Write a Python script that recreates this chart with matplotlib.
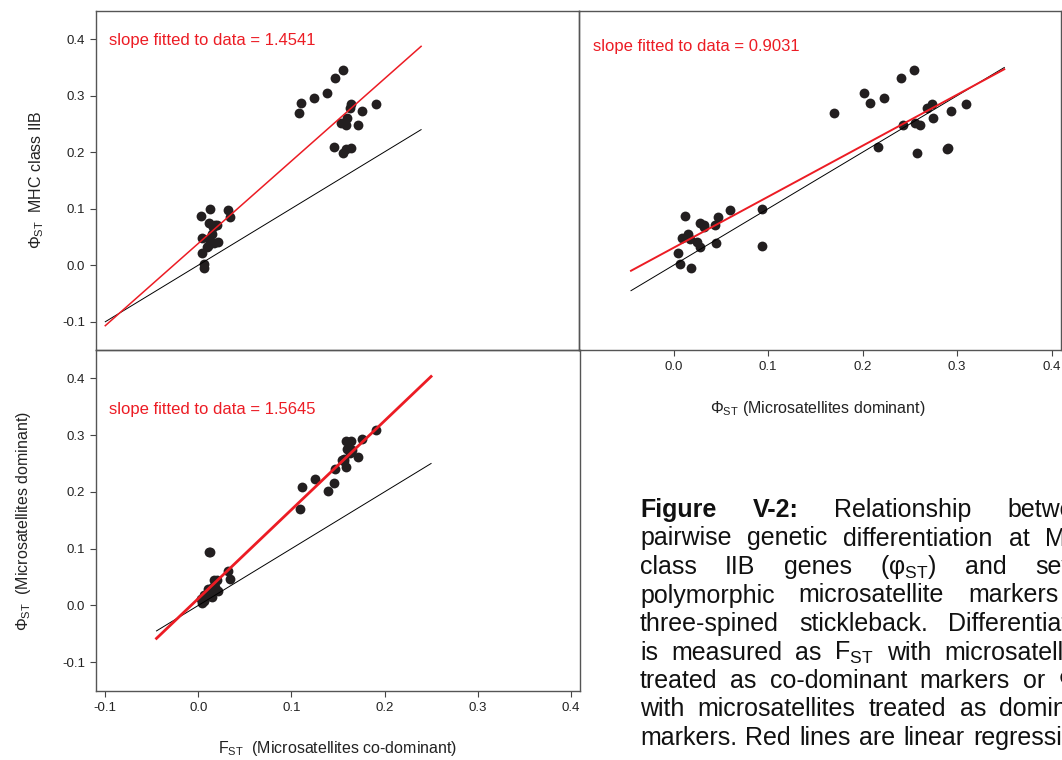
import numpy as np
import matplotlib.pyplot as plt

plt.rcParams['font.family'] = ['Liberation Sans', 'DejaVu Sans']
plt.rcParams['mathtext.fontset'] = 'custom'
plt.rcParams['mathtext.rm'] = 'Liberation Sans'
plt.rcParams['mathtext.it'] = 'Liberation Sans:italic'
plt.rcParams['mathtext.bf'] = 'Liberation Sans:bold'
plt.rcParams['axes.unicode_minus'] = False

# pairwise differentiation, one entry per population pair
fst_codom = [0.156, 0.147, 0.139, 0.125, 0.111, 0.165, 0.191, 0.109, 0.163,
             0.176, 0.160, 0.154, 0.159, 0.172, 0.146, 0.156, 0.159, 0.164,
             0.013, 0.003, 0.032, 0.034, 0.012, 0.018, 0.020, 0.016, 0.015,
             0.004, 0.012, 0.021, 0.017, 0.011, 0.010, 0.004, 0.006, 0.006]
phist_msat_dom = [0.254, 0.241, 0.202, 0.223, 0.208, 0.273, 0.309, 0.170, 0.268,
                  0.294, 0.275, 0.256, 0.243, 0.261, 0.216, 0.258, 0.289, 0.290,
                  0.094, 0.012, 0.060, 0.047, 0.028, 0.032, 0.044, 0.032, 0.015,
                  0.009, 0.017, 0.025, 0.045, 0.094, 0.028, 0.005, 0.007, 0.019]
phist_mhc = [0.345, 0.332, 0.304, 0.296, 0.287, 0.286, 0.285, 0.270, 0.278,
             0.273, 0.261, 0.252, 0.249, 0.248, 0.209, 0.199, 0.205, 0.207,
             0.100, 0.088, 0.097, 0.085, 0.074, 0.072, 0.072, 0.067, 0.056,
             0.048, 0.046, 0.042, 0.039, 0.034, 0.032, 0.021, 0.002, -0.005]

slopes = [1.4541, 0.9031, 1.5645]
line_ranges = [(-0.10, 0.24), (-0.045, 0.35), (-0.045, 0.25)]
ticks = [-0.1, 0.0, 0.1, 0.2, 0.3, 0.4]

W, H = 1062, 760
RED = '#ec1c24'
DOT = '#231f20'

fig = plt.figure(figsize=(W / 100, H / 100), dpi=100)


def box(l, t, r, b):
    return [l / W, 1 - b / H, (r - l) / W, (b - t) / H]


ax_tl = fig.add_axes(box(96, 11, 579, 350))
ax_tr = fig.add_axes(box(579, 11, 1061, 350))
ax_bl = fig.add_axes(box(96, 350, 580, 690.5))

panels = [
    (ax_tl, fst_codom, phist_mhc, (-0.11, 0.41), (0.027, 0.912), 1.1),
    (ax_tr, phist_msat_dom, phist_mhc, (-0.09, 0.41), (0.029, 0.895), 1.4),
    (ax_bl, fst_codom, phist_msat_dom, (-0.11, 0.41), (0.027, 0.826), 2.0),
]

for i, (ax, xs, ys, xlim, txt_pos, red_lw) in enumerate(panels):
    xs = np.array(xs)
    ys = np.array(ys)
    ax.set_facecolor('none')
    ax.scatter(xs, ys, s=50, color=DOT, linewidths=0, zorder=2)

    # least-squares line with the reported slope passes through the means
    b = slopes[i]
    a = ys.mean() - b * xs.mean()
    x0, x1 = line_ranges[i]
    xx = np.array([x0, x1])
    ax.plot(xx, xx, color='black', lw=0.7, zorder=3)
    ax.plot(xx, a + b * xx, color=RED, lw=red_lw, zorder=4)

    ax.text(txt_pos[0], txt_pos[1], 'slope fitted to data = %.4f' % b,
            transform=ax.transAxes, color=RED, fontsize=12, va='center')

    ax.set_xlim(*xlim)
    ax.set_ylim(-0.15, 0.45)
    ax.set_xticks(ticks)
    ax.set_yticks(ticks)
    ax.xaxis.set_major_formatter(plt.FormatStrFormatter('%.1f'))
    ax.yaxis.set_major_formatter(plt.FormatStrFormatter('%.1f'))
    ax.tick_params(direction='out', length=4, width=0.8, color='#444444',
                   labelsize=9.5, labelcolor='#222222', pad=4)
    for sp in ax.spines.values():
        sp.set_color('#555555')
        sp.set_linewidth(1.0)

ax_tl.tick_params(bottom=False, labelbottom=False)
ax_tr.tick_params(left=False, labelleft=False)
ax_tr.set_xticks([0.0, 0.1, 0.2, 0.3, 0.4])

# axis titles
lab = dict(fontsize=11.5, color='#222222', ha='center', va='center')
fig.text(37 / W, 1 - 180 / H, r'$\Phi_{\mathregular{ST}}$  MHC class IIB',
         rotation=90, **lab)
fig.text(24 / W, 1 - 521 / H, r'$\Phi_{\mathregular{ST}}$  (Microsatellites dominant)',
         rotation=90, **lab)
fig.text(818 / W, 1 - 409 / H, r'$\Phi_{\mathregular{ST}}$ (Microsatellites dominant)', **lab)
fig.text(338 / W, 1 - 749 / H, r'F$_{\mathregular{ST}}$  (Microsatellites co-dominant)', **lab)

# caption block, fully justified between the column margins
caption = [
    ['Figure', 'V-2:', 'Relationship', 'between'],
    ['pairwise', 'genetic', 'differentiation', 'at', 'MHC'],
    ['class', 'IIB', 'genes', r'($\mathregular{φ_{ST}}$)', 'and', 'seven'],
    ['polymorphic', 'microsatellite', 'markers', 'in'],
    ['three-spined', 'stickleback.', 'Differentiation'],
    ['is', 'measured', 'as', r'F$_{\mathregular{ST}}$', 'with', 'microsatellites'],
    ['treated', 'as', 'co-dominant', 'markers', 'or', r'$\Phi_{\mathregular{ST}}$'],
    ['with', 'microsatellites', 'treated', 'as', 'dominant'],
    ['markers.', 'Red', 'lines', 'are', 'linear', 'regressions'],
]
bold_words = {'Figure', 'V-2:'}
renderer = fig.canvas.get_renderer()
left_px, right_px = 640, 1102
for row, words in enumerate(caption):
    y = 1 - (517 + 28.5 * row) / H
    items = [fig.text(0, y, w, fontsize=18, color='#111111', va='baseline',
                      fontweight='bold' if w in bold_words else 'normal')
             for w in words]
    widths = [t.get_window_extent(renderer).width for t in items]
    gap = (right_px - left_px - sum(widths)) / (len(words) - 1)
    x = left_px
    for t, w in zip(items, widths):
        t.set_x(x / W)
        x += w + gap

fig.savefig('out.png', dpi=100)
